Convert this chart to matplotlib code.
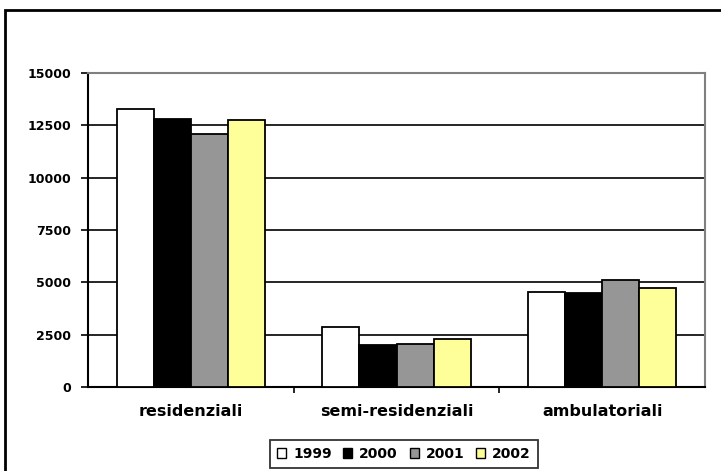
import numpy as np
import matplotlib
matplotlib.use('Agg')
from matplotlib import pyplot as plt
from matplotlib.patches import Rectangle

categories = ['residenziali', 'semi-residenziali', 'ambulatoriali']
years = ['1999', '2000', '2001', '2002']
v1999 = [13300, 2850, 4550]
v2000 = [12800, 2000, 4475]
v2001 = [12100, 2050, 5125]
v2002 = [12750, 2275, 4750]
yticks = [0, 2500, 5000, 7500, 10000, 12500, 15000]

series = [v1999, v2000, v2001, v2002]
colors = ['#ffffff', '#000000', '#969696', '#ffff99']

# wide bold face, close to the stretched Arial of the original
plt.rcParams['font.family'] = ['DejaVu Sans']
plt.rcParams['font.weight'] = 'bold'

fig = plt.figure(figsize=(7.21, 4.71), dpi=100)
W, H = 721, 471
ax = fig.add_axes([88 / W, 1 - 387 / H, (705 - 88) / W, (387 - 73) / H])

# outer chart frame (runs off the right and bottom edge)
fig.patches.append(Rectangle((5 / W, -0.05), 1.0, 1 - 10 / H + 0.05,
                             transform=fig.transFigure, fill=False,
                             edgecolor='black', linewidth=2))

x = np.arange(len(categories))
w = 0.18
for i, (vals, c) in enumerate(zip(series, colors)):
    ax.bar(x + (i - 1.5) * w, vals, w, color=c, edgecolor='black',
           linewidth=1.3, label=years[i], zorder=3)

ax.set_xlim(-0.5, 2.5)
ax.set_ylim(0, 15000)
ax.set_yticks(yticks)
ax.set_yticklabels([str(t) for t in yticks], fontsize=9, fontweight='bold')
ax.yaxis.grid(True, color='black', linewidth=1.2, zorder=0)
ax.set_xticks(x)
ax.set_xticklabels(categories, fontsize=11.5, fontweight='bold')
ax.tick_params(axis='x', length=0, pad=12)
ax.set_xticks([0.5, 1.5], minor=True)
ax.tick_params(axis='x', which='minor', length=4, width=1.2, direction='out')
ax.tick_params(axis='y', length=5, width=1.2, direction='out', pad=7)

for s in ['top', 'right']:
    ax.spines[s].set_color('#808080')
    ax.spines[s].set_linewidth(1.5)
for s in ['left', 'bottom']:
    ax.spines[s].set_color('black')
    ax.spines[s].set_linewidth(1.5)

leg = fig.legend(loc='center', bbox_to_anchor=(404 / W, 1 - 454 / H), ncol=4,
                 fontsize=10, frameon=True, fancybox=False, edgecolor='black',
                 handlelength=0.65, handleheight=0.65, handletextpad=0.5,
                 columnspacing=0.85, borderpad=0.5)
leg.get_frame().set_linewidth(1.3)
for t in leg.get_texts():
    t.set_fontweight('bold')
for h in leg.legend_handles:
    h.set_linewidth(1.0)

fig.savefig('out.png', dpi=100)
